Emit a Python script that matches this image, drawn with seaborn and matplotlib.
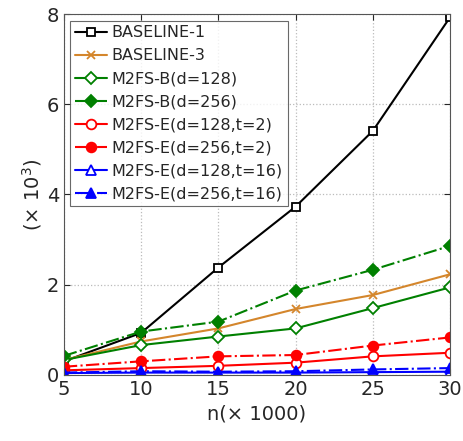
import numpy as np
import pandas as pd
import matplotlib
matplotlib.use('Agg')
import matplotlib.pyplot as plt
import seaborn as sns

# data (values in x 10^3)
n = [5, 10, 15, 20, 25, 30]
baseline1 = [0.30, 0.93, 2.38, 3.73, 5.41, 7.93]
baseline3 = [0.33, 0.74, 1.03, 1.46, 1.77, 2.23]
b128 = [0.33, 0.66, 0.85, 1.03, 1.48, 1.94]
b256 = [0.42, 0.96, 1.18, 1.87, 2.33, 2.86]
e128_t2 = [0.10, 0.15, 0.20, 0.27, 0.41, 0.49]
e256_t2 = [0.18, 0.30, 0.41, 0.44, 0.65, 0.83]
e128_t16 = [0.04, 0.05, 0.05, 0.05, 0.06, 0.07]
e256_t16 = [0.05, 0.08, 0.07, 0.08, 0.12, 0.15]

labels = ['BASELINE-1', 'BASELINE-3', 'M2FS-B(d=128)', 'M2FS-B(d=256)',
          'M2FS-E(d=128,t=2)', 'M2FS-E(d=256,t=2)',
          'M2FS-E(d=128,t=16)', 'M2FS-E(d=256,t=16)']
series = [baseline1, baseline3, b128, b256, e128_t2, e256_t2, e128_t16, e256_t16]

styles = [
    dict(color='black', ls='-', marker='s', mfc='white', ms=6),
    dict(color='#D4862C', ls='-', marker='x', mfc='#D4862C', ms=6),
    dict(color='#008000', ls='-', marker='D', mfc='white', ms=6),
    dict(color='#008000', ls='-.', marker='D', mfc='#008000', ms=6),
    dict(color='red', ls='-', marker='o', mfc='white', ms=7),
    dict(color='red', ls='-.', marker='o', mfc='red', ms=7),
    dict(color='blue', ls='-', marker='^', mfc='white', ms=7),
    dict(color='blue', ls='-.', marker='^', mfc='blue', ms=7),
]

sns.set_style('ticks')
plt.rcParams['font.family'] = ['DejaVu Sans']

fig = plt.figure(figsize=(4.63, 4.41), dpi=100)
ax = fig.add_axes([0.138, 0.150, 0.834, 0.818])

for lab, vals, st in zip(labels, series, styles):
    df = pd.DataFrame({'n': n, 'v': vals})
    sns.lineplot(data=df, x='n', y='v', ax=ax, label=lab, color=st['color'],
                 linestyle=st['ls'], marker=st['marker'], markersize=st['ms'],
                 markerfacecolor=st['mfc'], markeredgecolor=st['color'],
                 markeredgewidth=1.3, linewidth=1.5)

ax.set_xlim(5, 30)
ax.set_ylim(0, 8)
ax.set_xticks(n)
ax.set_yticks([0, 2, 4, 6, 8])
ax.tick_params(direction='in', labelsize=14, length=4, top=True, right=True)
ax.grid(True, linestyle=':', color='#BBBBBB', linewidth=0.9)
for s in ax.spines.values():
    s.set_color('#555555')
    s.set_linewidth(0.8)
ax.set_xlabel('n(× 1000)', fontsize=14)
ax.set_ylabel('(× 10$^3$)', fontsize=14, labelpad=2)

leg = ax.legend(loc='upper left', fontsize=11.5, frameon=True, fancybox=False,
                edgecolor='#444444', handlelength=2.0, handletextpad=0.3,
                labelspacing=0.5, borderpad=0.3, borderaxespad=0.4)
leg.get_frame().set_linewidth(0.8)

plt.savefig('out.png', dpi=100)
